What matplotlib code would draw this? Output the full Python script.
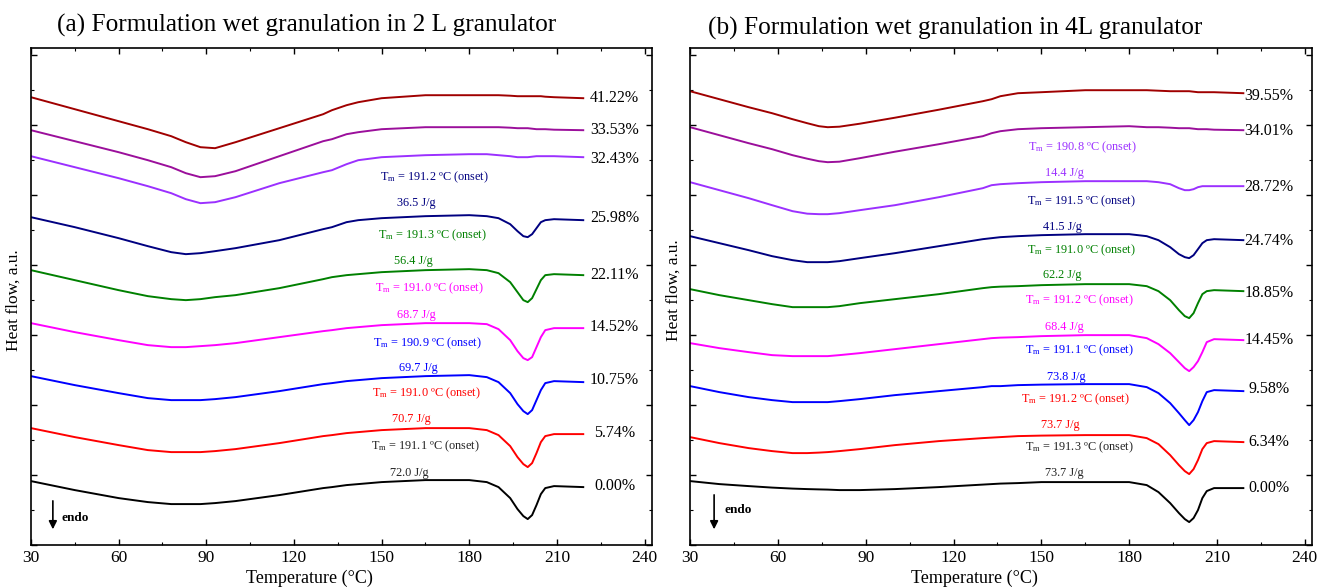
import matplotlib
matplotlib.use("Agg")
import matplotlib.pyplot as plt
from matplotlib.ticker import MultipleLocator

plt.rcParams['font.family'] = ['Liberation Serif', 'DejaVu Serif']
plt.rcParams['mathtext.fontset'] = 'custom'
plt.rcParams['mathtext.rm'] = 'Liberation Serif'
plt.rcParams['mathtext.it'] = 'Liberation Serif:italic'

# ---- data (heat flow in a.u., curves offset) ----
temp_a = [30, 45, 60, 70, 78, 83, 88, 93, 100, 115, 130, 133, 138, 142, 150, 165,
          180, 186, 190, 194, 196.5, 198.5, 200, 201.5, 203, 204.5, 206, 209, 219]

hf_a_4122 = [44.8, 43.6, 42.4, 41.6, 40.9, 40.3, 39.8, 39.7, 40.3, 41.7, 43.1, 43.5, 44.0, 44.3, 44.7, 45.0,
             45.0, 45.0, 45.0, 44.95, 44.9, 44.9, 44.9, 44.9, 44.9, 44.9, 44.85, 44.8, 44.7]
hf_a_3353 = [41.5, 40.4, 39.3, 38.5, 37.8, 37.2, 36.8, 36.9, 37.4, 38.9, 40.4, 40.6, 41.1, 41.3, 41.6, 41.8,
             41.8, 41.8, 41.8, 41.75, 41.7, 41.7, 41.7, 41.65, 41.6, 41.6, 41.6, 41.55, 41.5]
hf_a_3243 = [38.9, 37.8, 36.7, 35.9, 35.2, 34.6, 34.2, 34.3, 34.8, 36.2, 37.3, 37.5, 38.1, 38.5, 38.8, 39.0,
             39.1, 39.1, 39.0, 38.9, 38.8, 38.8, 38.8, 38.85, 38.9, 38.9, 38.9, 38.9, 38.8]
hf_a_2598 = [32.8, 31.8, 30.7, 29.9, 29.3, 29.1, 29.2, 29.4, 29.7, 30.5, 31.6, 31.8, 32.3, 32.5, 32.7, 32.9,
             33.0, 32.9, 32.7, 32.1, 31.4, 30.9, 30.8, 31.1, 31.7, 32.3, 32.5, 32.6, 32.5]
hf_a_2211 = [27.5, 26.5, 25.5, 24.9, 24.6, 24.5, 24.6, 24.8, 25.0, 25.7, 26.6, 26.8, 27.0, 27.1, 27.3, 27.5,
             27.6, 27.5, 27.2, 26.3, 25.3, 24.5, 24.3, 24.7, 25.6, 26.5, 27.0, 27.1, 27.0]
hf_a_1452 = [22.2, 21.3, 20.5, 20.0, 19.8, 19.8, 19.9, 20.0, 20.2, 20.8, 21.4, 21.5, 21.7, 21.8, 22.0, 22.2,
             22.2, 22.1, 21.6, 20.5, 19.4, 18.7, 18.5, 18.8, 19.8, 20.8, 21.5, 21.7, 21.7]
hf_a_1075 = [16.9, 16.0, 15.2, 14.7, 14.5, 14.5, 14.5, 14.6, 14.8, 15.4, 16.1, 16.2, 16.4, 16.5, 16.7, 16.9,
             17.0, 16.8, 16.3, 15.2, 14.1, 13.4, 13.1, 13.5, 14.5, 15.5, 16.2, 16.4, 16.3]
hf_a_0574 = [11.7, 10.8, 10.0, 9.5, 9.3, 9.3, 9.3, 9.4, 9.6, 10.2, 10.9, 11.0, 11.2, 11.3, 11.5, 11.7,
             11.7, 11.5, 11.0, 9.9, 8.8, 8.1, 7.8, 8.2, 9.2, 10.3, 10.9, 11.1, 11.1]
hf_a_0000 = [6.4, 5.5, 4.7, 4.3, 4.1, 4.1, 4.1, 4.2, 4.4, 5.0, 5.7, 5.8, 6.0, 6.1, 6.3, 6.5,
             6.5, 6.3, 5.8, 4.7, 3.6, 2.9, 2.6, 3.0, 4.0, 5.1, 5.7, 5.9, 5.8]

temp_b = [30, 40, 50, 58, 65, 70, 74, 77, 81, 88, 100, 115, 130, 133, 136, 142, 150, 165,
          180, 186, 190, 194, 197, 199, 200.5, 202, 203.5, 205, 206.5, 209, 219]

hf_b_3955 = [45.4, 44.6, 43.8, 43.2, 42.6, 42.2, 41.9, 41.8, 41.85, 42.15, 42.75, 43.55, 44.4, 44.6, 44.9, 45.2, 45.3, 45.5,
             45.5, 45.5, 45.45, 45.4, 45.4, 45.4, 45.4, 45.35, 45.3, 45.3, 45.3, 45.3, 45.2]
hf_b_3401 = [41.8, 41.0, 40.2, 39.6, 39.0, 38.65, 38.4, 38.3, 38.35, 38.7, 39.35, 40.1, 40.9, 41.2, 41.4, 41.6, 41.7, 41.8,
             41.9, 41.8, 41.8, 41.75, 41.7, 41.7, 41.7, 41.65, 41.6, 41.6, 41.6, 41.55, 41.5]
hf_b_2872 = [36.3, 35.5, 34.7, 34.0, 33.4, 33.15, 33.1, 33.1, 33.2, 33.5, 34.0, 34.8, 35.7, 36.0, 36.1, 36.2, 36.3, 36.4,
             36.4, 36.4, 36.3, 36.1, 35.7, 35.5, 35.5, 35.6, 35.8, 35.9, 35.9, 35.9, 35.9]
hf_b_2474 = [30.9, 30.2, 29.5, 28.9, 28.5, 28.3, 28.3, 28.3, 28.4, 28.7, 29.2, 29.9, 30.6, 30.7, 30.8, 30.9, 31.0, 31.1,
             31.1, 30.9, 30.5, 29.8, 29.1, 28.8, 28.7, 29.0, 29.6, 30.2, 30.5, 30.6, 30.5]
hf_b_1885 = [25.6, 25.0, 24.5, 24.1, 23.8, 23.8, 23.8, 23.8, 23.9, 24.2, 24.6, 25.1, 25.7, 25.8, 25.85, 25.9, 26.0, 26.1,
             26.1, 25.9, 25.4, 24.5, 23.5, 22.9, 22.7, 23.2, 24.2, 25.1, 25.4, 25.5, 25.4]
hf_b_1445 = [20.2, 19.7, 19.3, 19.0, 18.9, 18.9, 18.9, 18.9, 19.0, 19.2, 19.6, 20.1, 20.6, 20.7, 20.75, 20.8, 20.9, 21.0,
             21.0, 20.7, 20.1, 19.2, 18.3, 17.7, 17.4, 17.8, 18.4, 19.3, 20.3, 20.6, 20.5]
hf_b_0958 = [15.9, 15.3, 14.8, 14.5, 14.3, 14.3, 14.3, 14.3, 14.4, 14.6, 15.0, 15.4, 15.8, 15.9, 15.9, 16.0, 16.05, 16.1,
             16.1, 15.8, 15.2, 14.2, 13.2, 12.5, 12.0, 12.5, 13.3, 14.4, 15.3, 15.5, 15.4]
hf_b_0634 = [10.8, 10.2, 9.7, 9.4, 9.2, 9.2, 9.25, 9.3, 9.4, 9.6, 10.0, 10.4, 10.7, 10.75, 10.8, 10.9, 10.95, 11.0,
             11.0, 10.7, 10.1, 9.0, 8.0, 7.4, 7.1, 7.6, 8.5, 9.6, 10.2, 10.4, 10.3]
hf_b_0000 = [6.4, 6.1, 5.9, 5.75, 5.65, 5.6, 5.57, 5.55, 5.5, 5.5, 5.6, 5.8, 6.05, 6.1, 6.15, 6.2, 6.3, 6.3,
             6.3, 6.0, 5.3, 4.2, 3.2, 2.6, 2.3, 2.7, 3.5, 4.7, 5.4, 5.7, 5.7]

colors = ["#a00000", "#9b0f9b", "#9b30ff", "#000080", "#008000", "#ff00ff", "#0000ff", "#ff0000", "#000000"]

curves_a = [hf_a_4122, hf_a_3353, hf_a_3243, hf_a_2598, hf_a_2211, hf_a_1452, hf_a_1075, hf_a_0574, hf_a_0000]
labels_a = ["41.22%", "33.53%", "32.43%", "25.98%", "22.11%", "14.52%", "10.75%", "5.74%", "0.00%"]
label_y_a = [44.7, 41.5, 38.6, 32.7, 27.0, 21.8, 16.5, 11.2, 5.9]

curves_b = [hf_b_3955, hf_b_3401, hf_b_2872, hf_b_2474, hf_b_1885, hf_b_1445, hf_b_0958, hf_b_0634, hf_b_0000]
labels_b = ["39.55%", "34.01%", "28.72%", "24.74%", "18.85%", "14.45%", "9.58%", "6.34%", "0.00%"]
label_y_b = [44.9, 41.4, 35.8, 30.4, 25.2, 20.5, 15.6, 10.3, 5.7]

# melting annotations: (text, T, y, color index)
notes_a = [("T$_\\mathrm{m}$ = 191.2 ºC (onset)", 168.2, 36.8, 3), ("36.5 J/g", 161.9, 34.2, 3),
           ("T$_\\mathrm{m}$ = 191.3 ºC (onset)", 167.4, 31.0, 4), ("56.4 J/g", 161.0, 28.4, 4),
           ("T$_\\mathrm{m}$ = 191.0 ºC (onset)", 166.5, 25.7, 5), ("68.7 J/g", 162.0, 23.0, 5),
           ("T$_\\mathrm{m}$ = 190.9 ºC (onset)", 165.8, 20.2, 6), ("69.7 J/g", 162.6, 17.7, 6),
           ("T$_\\mathrm{m}$ = 191.0 ºC (onset)", 165.4, 15.2, 7), ("70.7 J/g", 160.3, 12.6, 7),
           ("T$_\\mathrm{m}$ = 191.1 ºC (onset)", 165.0, 9.9, 8), ("72.0 J/g", 159.6, 7.2, 8)]
notes_b = [("T$_\\mathrm{m}$ = 190.8 ºC (onset)", 164.1, 39.8, 2), ("14.4 J/g", 157.8, 37.2, 2),
           ("T$_\\mathrm{m}$ = 191.5 ºC (onset)", 163.8, 34.4, 3), ("41.5 J/g", 157.3, 31.8, 3),
           ("T$_\\mathrm{m}$ = 191.0 ºC (onset)", 163.8, 29.5, 4), ("62.2 J/g", 157.3, 27.0, 4),
           ("T$_\\mathrm{m}$ = 191.2 ºC (onset)", 163.1, 24.5, 5), ("68.4 J/g", 157.7, 21.8, 5),
           ("T$_\\mathrm{m}$ = 191.1 ºC (onset)", 163.1, 19.5, 6), ("73.8 J/g", 158.6, 16.8, 6),
           ("T$_\\mathrm{m}$ = 191.2 ºC (onset)", 161.7, 14.6, 7), ("73.7 J/g", 156.5, 12.0, 7),
           ("T$_\\mathrm{m}$ = 191.3 ºC (onset)", 163.1, 9.8, 8), ("73.7 J/g", 157.7, 7.2, 8)]

fig = plt.figure(figsize=(13.17, 5.88), dpi=100)
ax_a = fig.add_axes([0.0235, 0.073, 0.4715, 0.845])
ax_b = fig.add_axes([0.524, 0.073, 0.4723, 0.845])


def draw_panel(ax, temps, curves, labels, label_y, label_x, notes, arrow_x, text_x, arrow_top, text_y, xlab_x, ylab_x, ylab_y):
    for hf, c in zip(curves, colors):
        ax.plot(temps, hf, color=c, lw=1.4)
    for lab, ly in zip(labels, label_y):
        ax.text(label_x, ly, lab, fontsize=11.5, ha='center', va='center')
    for txt, tx, ty, ci in notes:
        col = colors[ci] if ci != 8 else "#222222"
        ax.text(tx, ty, txt, fontsize=8.8, color=col, ha='center', va='center')
    ax.annotate("", xy=(arrow_x, 1.3), xytext=(arrow_x, arrow_top),
                arrowprops=dict(arrowstyle="-|>", color="black", lw=1.2, mutation_scale=12))
    ax.text(text_x, text_y, "endo", fontsize=9.5, fontweight='bold', ha='left', va='center')

    ax.set_xlim(30, 242.5)
    ax.set_ylim(0, 49.7)
    ax.xaxis.set_major_locator(MultipleLocator(30))
    ax.xaxis.set_minor_locator(MultipleLocator(15))
    ax.yaxis.set_major_locator(MultipleLocator(7))
    ax.yaxis.set_minor_locator(MultipleLocator(3.5))
    ax.tick_params(which='both', direction='in', top=True, right=True, labelsize=12.5)
    ax.tick_params(which='major', length=4, width=1)
    ax.tick_params(which='minor', length=2.5, width=0.8)
    ax.tick_params(axis='y', labelleft=False)
    for sp in ax.spines.values():
        sp.set_linewidth(1.2)
    ax.set_xlabel("Temperature (°C)", fontsize=13)
    ax.xaxis.set_label_coords(xlab_x, -0.05)
    ax.set_ylabel("Heat flow, a.u.", fontsize=12.5)
    ax.yaxis.set_label_coords(ylab_x, ylab_y)


draw_panel(ax_a, temp_a, curves_a, labels_a, label_y_a, 229.7, notes_a,
           37.5, 40.6, 4.7, 2.7, 0.449, -0.0145, 0.493)
draw_panel(ax_b, temp_b, curves_b, labels_b, label_y_b, 227.8, notes_b,
           38.2, 41.7, 5.3, 3.5, 0.457, -0.013, 0.513)

fig.text(57 / 1317, 1 - 25 / 588, "(a) Formulation wet granulation in 2 L granulator",
         fontsize=18.2, ha='left', va='center')
fig.text(708 / 1317, 1 - 28 / 588, "(b) Formulation wet granulation in 4L granulator",
         fontsize=18.2, ha='left', va='center')

fig.savefig("out.png", dpi=100)
